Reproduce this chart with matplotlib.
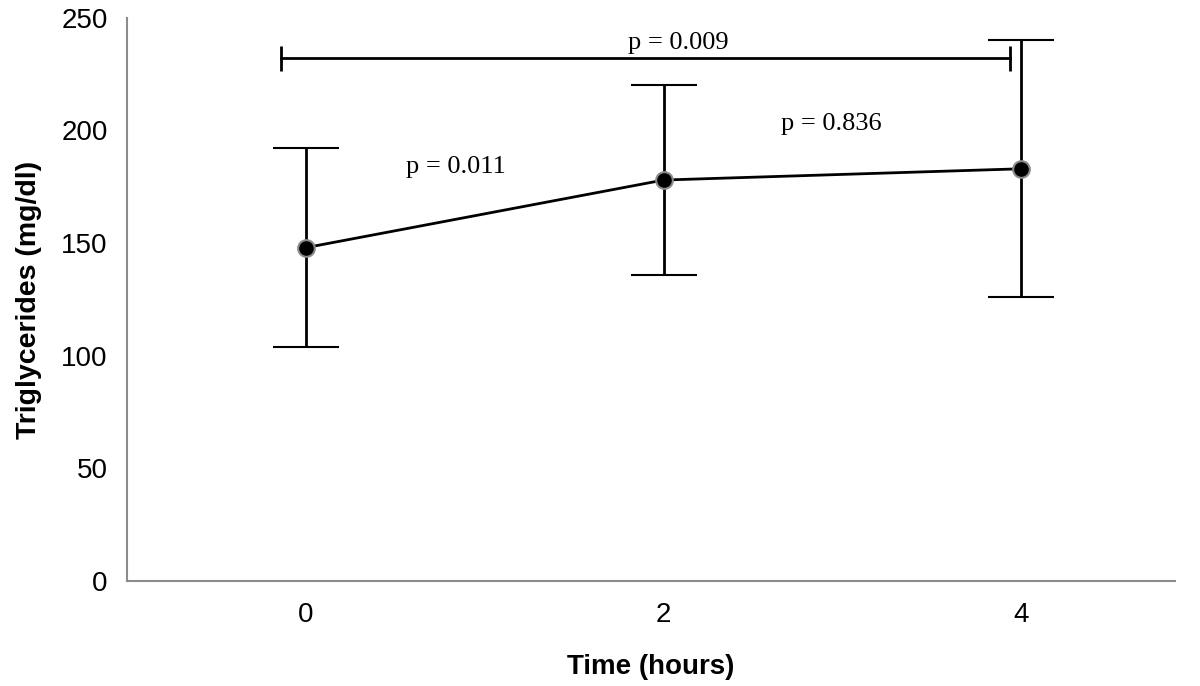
import matplotlib.pyplot as plt

# values
time_labels = ['0', '2', '4']
triglycerides = [148, 178, 183]
sd = [44, 42, 57]

p_labels = ['p = 0.011', 'p = 0.836', 'p = 0.009']
p_x = [0.42, 1.47, 1.04]
p_y = [184, 203, 239]

plt.rcParams['font.family'] = ['Liberation Sans', 'DejaVu Sans']

fig = plt.figure(figsize=(12, 6.86), dpi=100)
ax = fig.add_axes([0.106, 0.153, 0.873, 0.821])

x = list(range(len(time_labels)))
ax.errorbar(x, triglycerides, yerr=sd, color='black', linewidth=2,
            elinewidth=2, capsize=24, capthick=2,
            marker='o', markersize=12, markerfacecolor='black',
            markeredgecolor='#8a8a8a', markeredgewidth=1.5)

# bracket between 0 h and 4 h
ax.plot([-0.07, 1.97], [232, 232], color='black', linewidth=2,
        marker='|', markersize=18, markeredgewidth=2)

for lab, px, py in zip(p_labels, p_x, p_y):
    ax.text(px, py, lab, ha='center', va='center', fontsize=19,
            family=['Liberation Serif', 'DejaVu Serif'])

ax.set_xlim(-0.5, 2.43)
ax.set_ylim(0, 250)
ax.set_yticks([0, 50, 100, 150, 200, 250])
ax.set_xticks(x)
ax.set_xticklabels(time_labels)
ax.tick_params(length=0, labelsize=20)
ax.tick_params(axis='x', pad=15)
ax.tick_params(axis='y', pad=14)

for side in ['top', 'right']:
    ax.spines[side].set_visible(False)
for side in ['left', 'bottom']:
    ax.spines[side].set_color('#8c8c8c')
    ax.spines[side].set_linewidth(1.5)

ax.set_xlabel('Time (hours)', fontsize=20, fontweight='bold', labelpad=19)
ax.set_ylabel('Triglycerides (mg/dl)', fontsize=20.5, fontweight='bold', labelpad=14)

fig.savefig('out.png', dpi=100)
